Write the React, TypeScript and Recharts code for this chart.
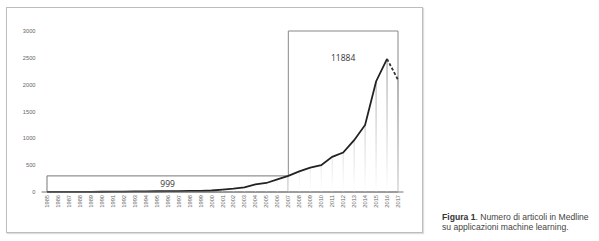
import React from "react";
import {
  ComposedChart,
  Line,
  XAxis,
  YAxis,
  ReferenceArea,
  ReferenceLine,
} from "recharts";

const years = [
  1985, 1986, 1987, 1988, 1989, 1990, 1991, 1992, 1993, 1994,
  1995, 1996, 1997, 1998, 1999, 2000, 2001, 2002, 2003, 2004,
  2005, 2006, 2007, 2008, 2009, 2010, 2011, 2012, 2013, 2014,
  2015, 2016, 2017,
];
const articles = [
  2, 2, 3, 3, 4, 5, 6, 8, 10, 12,
  14, 16, 18, 20, 22, 28, 43, 62, 87, 143,
  168, 236, 300, 385, 455, 500, 655, 735, 965, 1250,
  2060, 2480, 2090,
];
const yTicks = [0, 500, 1000, 1500, 2000, 2500, 3000];
const earlyTotal = "999";
const lateTotal = "11884";

const data = years.map((y, i) => ({
  year: y,
  value: articles[i],
  solid: i <= years.length - 2 ? articles[i] : null,
  dash: i >= years.length - 2 ? articles[i] : null,
}));

const XTick = (props: any) => {
  const { x, y, payload } = props;
  return (
    <text
      x={x}
      y={y}
      transform={`rotate(-90, ${x}, ${y})`}
      textAnchor="end"
      dominantBaseline="central"
      fontSize={5.7}
      fill="#666"
      fontFamily="Liberation Sans, Arial, sans-serif"
    >
      {payload.value}
    </text>
  );
};

export default function App() {
  return (
    <div
      style={{
        position: "absolute",
        left: 0,
        top: 0,
        width: 599,
        height: 241,
        background: "#fff",
      }}
    >
      <div
        style={{
          position: "absolute",
          left: 6,
          top: 7,
          width: 415,
          height: 224,
          border: "1px solid #bdbdbd",
          boxShadow: "1px 1px 1px #ddd",
        }}
      />
      <div style={{ position: "absolute", left: 0, top: 0 }}>
        <ComposedChart
          width={599}
          height={241}
          data={data}
          margin={{ top: 31, right: 195.5, bottom: 29, left: 11.5 }}
        >
          <defs>
            <linearGradient id="drop" gradientUnits="userSpaceOnUse" x1="0" y1="31" x2="0" y2="192">
              <stop offset="0%" stopColor="#7a7a7a" />
              <stop offset="100%" stopColor="#ffffff" />
            </linearGradient>
          </defs>
          <XAxis
            dataKey="year"
            type="number"
            domain={[1984.5, 2017.5]}
            allowDataOverflow
            ticks={years}
            tick={<XTick />}
            tickLine={false}
            axisLine={{ stroke: "#777", strokeWidth: 1 }}
            interval={0}
            height={20}
            tickSize={0}
            tickMargin={3}
          />
          <YAxis
            domain={[0, 3000]}
            ticks={yTicks}
            width={30}
            axisLine={false}
            tickLine={false}
            tickSize={0}
            tickMargin={6}
            tick={{ fontSize: 5.7, fill: "#666", fontFamily: "Liberation Sans, Arial, sans-serif" }}
          />
          {years.map((yr, i) => (
            <ReferenceLine
              key={yr}
              segment={[
                { x: yr, y: 0 },
                { x: yr, y: articles[i] },
              ]}
              stroke="url(#drop)"
              strokeWidth={1}
              ifOverflow="visible"
            />
          ))}
          <ReferenceArea
            x1={1985}
            x2={2007}
            y1={0}
            y2={300}
            fill="none"
            stroke="#777"
            strokeWidth={1}
            ifOverflow="visible"
            label={{
              value: earlyTotal,
              position: "center",
              fontSize: 8.5,
              fill: "#333",
              fontFamily: "Open Sans, sans-serif",
            }}
          />
          <ReferenceArea
            x1={2007}
            x2={2017}
            y1={0}
            y2={3000}
            fill="none"
            stroke="#888"
            strokeWidth={1}
            ifOverflow="visible"
            label={{
              value: lateTotal,
              position: "insideTop",
              offset: 24,
              fontSize: 8.5,
              fill: "#333",
              fontFamily: "Open Sans, sans-serif",
            }}
          />
          <Line
            type="linear"
            dataKey="solid"
            stroke="#222"
            strokeWidth={1.8}
            dot={false}
            connectNulls={false}
            isAnimationActive={false}
          />
          <Line
            type="linear"
            dataKey="dash"
            stroke="#333"
            strokeWidth={1.8}
            strokeDasharray="3 2"
            dot={false}
            isAnimationActive={false}
          />
        </ComposedChart>
      </div>
      <div
        style={{
          position: "absolute",
          left: 442,
          top: 213,
          fontFamily: "Liberation Sans, Arial, sans-serif",
          fontSize: 8.6,
          lineHeight: "9.7px",
          color: "#444",
          whiteSpace: "nowrap",
        }}
      >
        <div>
          <b style={{ fontWeight: 700, color: "#333" }}>Figura 1</b>. Numero di articoli in Medline
        </div>
        <div>su applicazioni machine learning.</div>
      </div>
    </div>
  );
}
